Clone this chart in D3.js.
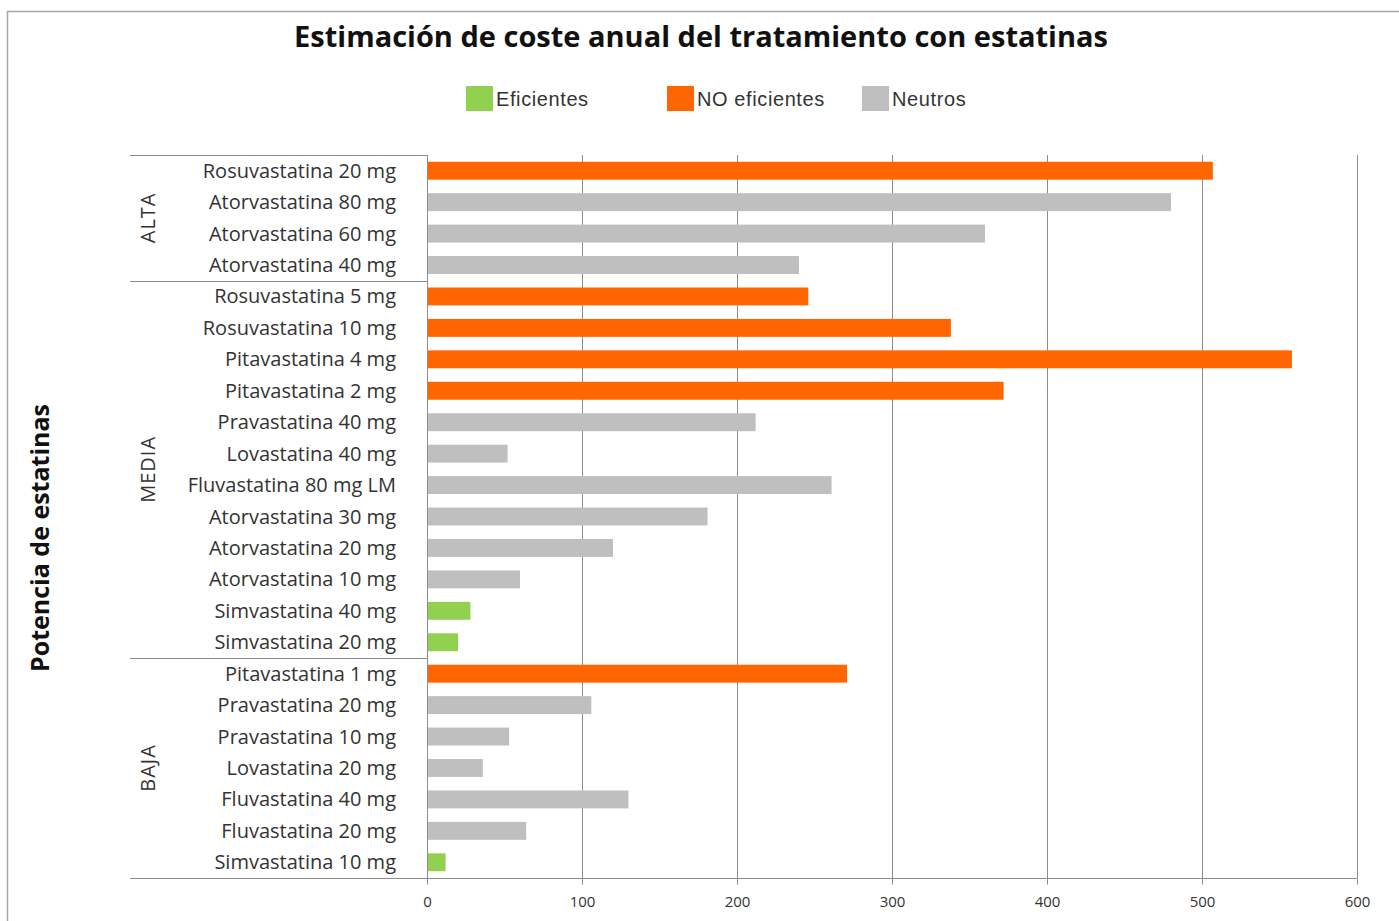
<!DOCTYPE html>
<html>
<head>
	<meta charset='utf-8'>
	<style>
		body { margin: 0; background: #fff; }
		svg { display: block; }
		.lbl { font-family: 'Open Sans', sans-serif; font-size: 20px; fill: #333; }
	</style>
</head>
<body>
	<svg></svg>
	<script src="https://d3js.org/d3.v7.min.js"></script>
	<script>
		// data, top to bottom
		var categories = ['Rosuvastatina 20 mg', 'Atorvastatina 80 mg', 'Atorvastatina 60 mg', 'Atorvastatina 40 mg',
			'Rosuvastatina 5 mg', 'Rosuvastatina 10 mg', 'Pitavastatina 4 mg', 'Pitavastatina 2 mg', 'Pravastatina 40 mg',
			'Lovastatina 40 mg', 'Fluvastatina 80 mg LM', 'Atorvastatina 30 mg', 'Atorvastatina 20 mg', 'Atorvastatina 10 mg',
			'Simvastatina 40 mg', 'Simvastatina 20 mg',
			'Pitavastatina 1 mg', 'Pravastatina 20 mg', 'Pravastatina 10 mg', 'Lovastatina 20 mg', 'Fluvastatina 40 mg',
			'Fluvastatina 20 mg', 'Simvastatina 10 mg'];
		var costs = [507, 480, 360, 240, 246, 338, 558, 372, 212, 52, 261, 181, 120, 60, 28, 20, 271, 106, 53, 36, 130, 64, 12];
		var classes = ['NO', 'N', 'N', 'N', 'NO', 'NO', 'NO', 'NO', 'N', 'N', 'N', 'N', 'N', 'N', 'E', 'E',
			'NO', 'N', 'N', 'N', 'N', 'N', 'E'];
		var groups = ['ALTA', 'MEDIA', 'BAJA'];
		var groupSizes = [4, 12, 7];
		var xTicks = [0, 100, 200, 300, 400, 500, 600];
		var legendKeys = ['E', 'NO', 'N'];
		var legendNames = ['Eficientes', 'NO eficientes', 'Neutros'];

		var colors = { E: '#92d050', NO: '#ff6600', N: '#bfbfbf' };

		var W = 1399, H = 921;
		var plotLeft = 427, plotRight = 1357, plotTop = 155, plotBottom = 878;

		var svg = d3.select('svg').attr('width', W).attr('height', H);

		// outer frame
		svg.append('rect').attr('x', 7.5).attr('y', 11.5).attr('width', W).attr('height', H)
			.attr('fill', 'none').attr('stroke', '#a6a6a6').attr('stroke-width', 1.5);

		var x = d3.scaleLinear().domain([0, 600]).range([plotLeft, plotRight]);
		var y = d3.scaleBand().domain(categories).range([plotTop, plotBottom]).paddingInner(0.43).paddingOuter(0.215);

		// gridlines
		svg.append('g').selectAll('line').data(xTicks.slice(1)).enter().append('line')
			.attr('x1', d => x(d) + 0.5).attr('x2', d => x(d) + 0.5)
			.attr('y1', plotTop).attr('y2', plotBottom)
			.attr('stroke', '#8c8c8c').attr('stroke-width', 1);

		// bars
		svg.append('g').selectAll('rect').data(categories).enter().append('rect')
			.attr('x', x(0))
			.attr('y', d => y(d))
			.attr('height', y.bandwidth())
			.attr('width', (d, i) => x(costs[i]) - x(0))
			.attr('fill', (d, i) => colors[classes[i]]);

		// x axis
		var xAxis = d3.axisBottom(x).tickValues(xTicks).tickSize(6).tickSizeOuter(0).tickPadding(12);
		var gx = svg.append('g').attr('transform', 'translate(0,' + (plotBottom + 0.5) + ')').call(xAxis);
		gx.select('.domain').remove();
		gx.selectAll('line').attr('stroke', '#8c8c8c');
		gx.selectAll('text').attr('class', 'lbl').style('font-size', '15px').attr('fill', '#333');

		// category axis line
		svg.append('line').attr('x1', plotLeft + 0.5).attr('x2', plotLeft + 0.5).attr('y1', plotTop).attr('y2', plotBottom)
			.attr('stroke', '#8c8c8c');
		svg.append('line').attr('x1', 130).attr('x2', plotRight).attr('y1', plotBottom + 0.5).attr('y2', plotBottom + 0.5)
			.attr('stroke', '#8c8c8c');

		// category labels
		svg.append('g').selectAll('text').data(categories).enter().append('text')
			.attr('class', 'lbl')
			.attr('x', 396)
			.attr('y', d => y(d) + y.bandwidth() / 2)
			.attr('dy', '0.35em')
			.attr('text-anchor', 'end')
			.text(d => d);

		// group separators and labels
		var step = y.step();
		var start = 0;
		groups.forEach(function (g, i) {
			var y0 = plotTop + start * step;
			var y1 = plotTop + (start + groupSizes[i]) * step;
			svg.append('line').attr('x1', 130).attr('x2', plotLeft).attr('y1', Math.round(y0) + 0.5).attr('y2', Math.round(y0) + 0.5)
				.attr('stroke', '#8c8c8c');
			svg.append('text').attr('class', 'lbl')
				.attr('transform', 'translate(148,' + ((y0 + y1) / 2) + ') rotate(-90)')
				.attr('text-anchor', 'middle').attr('dy', '0.35em')
				.style('letter-spacing', '1px')
				.text(g);
			start += groupSizes[i];
		});

		// title
		svg.append('text').attr('x', 701).attr('y', 47).attr('text-anchor', 'middle')
			.style('font-family', "'Open Sans', sans-serif").style('font-weight', 'bold').style('font-size', '29px')
			.attr('fill', '#111').text('Estimación de coste anual del tratamiento con estatinas');

		// y axis title
		svg.append('text').attr('transform', 'translate(49,538) rotate(-90)').attr('text-anchor', 'middle')
			.style('font-family', "'Open Sans', sans-serif").style('font-weight', 'bold').style('font-size', '25px')
			.attr('fill', '#111').text('Potencia de estatinas');

		// legend
		var legendX = [466, 667, 862];
		var lg = svg.append('g').selectAll('g').data(legendKeys).enter().append('g')
			.attr('transform', (d, i) => 'translate(' + legendX[i] + ',86)');
		lg.append('rect').attr('width', 27).attr('height', 25).attr('fill', d => colors[d]);
		lg.append('text').attr('x', 30).attr('y', 13).attr('dy', '0.35em')
			.style('font-family', "'Liberation Sans', Arial, sans-serif").style('font-size', '20px')
			.style('letter-spacing', '0.6px').attr('fill', '#333')
			.text((d, i) => legendNames[i]);
	</script>
</body>
</html>
